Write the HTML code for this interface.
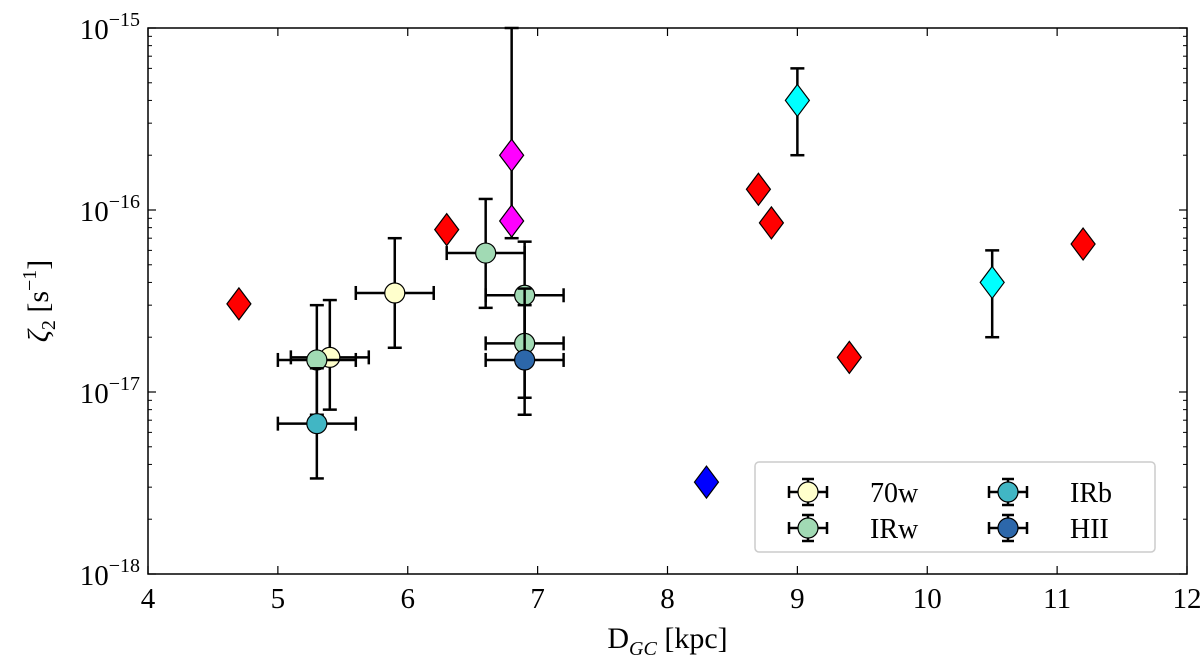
<!DOCTYPE html>
<html><head><meta charset="utf-8"><style>
body{margin:0;background:#fff;}
svg{display:block;font-family:"Liberation Serif",serif;}
</style></head><body>
<svg id="chart" width="1200" height="672"></svg>
<script>
const diamondX=[4.7,6.3,8.7,8.8,9.4,11.2,6.8,6.8,9.0,10.5,8.3];
const diamondY=[3.05e-17,7.8e-17,1.3e-16,8.5e-17,1.55e-17,6.5e-17,2.0e-16,8.7e-17,4.0e-16,4.0e-17,3.2e-18];
const diamondLo=[null,null,null,null,null,null,7e-17,null,2e-16,2e-17,null];
const diamondHi=[null,null,null,null,null,null,1e-15,null,6e-16,6e-17,null];
const diamondColor=["#ff0000","#ff0000","#ff0000","#ff0000","#ff0000","#ff0000","#ff00ff","#ff00ff","#00ffff","#00ffff","#0000ff"];
const circX=[5.4,5.9,5.3,6.6,6.9,6.9,5.3,6.9];
const circY=[1.55e-17,3.5e-17,1.5e-17,5.8e-17,3.4e-17,1.85e-17,6.7e-18,1.5e-17];
const circXerr=[0.3,0.3,0.3,0.3,0.3,0.3,0.3,0.3];
const circYlo=[8e-18,1.75e-17,7.5e-18,2.9e-17,1.7e-17,9.3e-18,3.35e-18,7.5e-18];
const circYhi=[3.2e-17,7e-17,3e-17,1.15e-16,6.7e-17,3.7e-17,1.35e-17,3e-17];
const circClass=["70w","70w","IRw","IRw","IRw","IRw","IRb","HII"];
const classColor={"70w":"#ffffcc","IRw":"#a1dab4","IRb":"#41b6c4","HII":"#2c67aa"};
const xTicks=[4,5,6,7,8,9,10,11,12];
const yDecades=[-18,-17,-16,-15];

const L=148,R=1187,T=28,B=574;
const sx=v=>L+(v-4)/8*(R-L);
const sy=v=>B-(Math.log10(v)+18)/3*(B-T);
const svg=document.getElementById('chart');
const NS='http://www.w3.org/2000/svg';
function mk(tag,attrs,parent){const e=document.createElementNS(NS,tag);for(const k in attrs)e.setAttribute(k,attrs[k]);(parent||svg).appendChild(e);return e;}

const frame=mk('rect',{x:L,y:T,width:R-L,height:B-T,fill:'none',stroke:'#000','stroke-width':1.5});



xTicks.forEach(t=>{
  const x=sx(t);
  mk('line',{x1:x,x2:x,y1:B,y2:B-8,stroke:'#000','stroke-width':1.2});
  mk('line',{x1:x,x2:x,y1:T,y2:T+8,stroke:'#000','stroke-width':1.2});
  const tx=mk('text',{x:x,y:B+34,'text-anchor':'middle','font-size':29});
  tx.textContent=t;
  
  
});
yDecades.forEach(d=>{
  const y=sy(Math.pow(10,d));
  mk('line',{x1:L,x2:L+8,y1:y,y2:y,stroke:'#000','stroke-width':1.2});
  mk('line',{x1:R,x2:R-8,y1:y,y2:y,stroke:'#000','stroke-width':1.2});
  const tx=mk('text',{x:L-8,y:y+11,'text-anchor':'end','font-size':29});
  tx.innerHTML='10<tspan dy="-13" font-size="20">−'+(-d)+'</tspan>';
  
  
  if(d<-15)for(let m=2;m<10;m++){
    const ym=sy(m*Math.pow(10,d));
    mk('line',{x1:L,x2:L+4,y1:ym,y2:ym,stroke:'#000','stroke-width':1});
    mk('line',{x1:R,x2:R-4,y1:ym,y2:ym,stroke:'#000','stroke-width':1});
  }
});
const xl=mk('text',{x:(L+R)/2,y:648,'text-anchor':'middle','font-size':30});
xl.innerHTML='D<tspan dy="7" font-size="20" font-style="italic">GC</tspan><tspan dy="-7"> [kpc]</tspan>';


const yl=mk('text',{transform:'translate(48,'+((T+B)/2)+') rotate(-90)','text-anchor':'middle','font-size':30});
yl.innerHTML='<tspan font-style="italic">ζ</tspan><tspan dy="7" font-size="20">2</tspan><tspan dy="-7"> [s</tspan><tspan dy="-12" font-size="20">−1</tspan><tspan dy="12">]</tspan>';



function vbar(x,lo,hi){const a=sy(lo),b=sy(hi);mk('line',{x1:x,x2:x,y1:a,y2:b,stroke:'#000','stroke-width':2.5});mk('line',{x1:x-7,x2:x+7,y1:a,y2:a,stroke:'#000','stroke-width':2.5});mk('line',{x1:x-7,x2:x+7,y1:b,y2:b,stroke:'#000','stroke-width':2.5});}
circX.forEach((v,i)=>{
  const x=sx(v),y=sy(circY[i]);
  vbar(x,circYlo[i],circYhi[i]);
  const x1=sx(v-circXerr[i]),x2=sx(v+circXerr[i]);
  mk('line',{x1:x1,x2:x2,y1:y,y2:y,stroke:'#000','stroke-width':2.5});
  mk('line',{x1:x1,x2:x1,y1:y-7,y2:y+7,stroke:'#000','stroke-width':2.5});
  mk('line',{x1:x2,x2:x2,y1:y-7,y2:y+7,stroke:'#000','stroke-width':2.5});
  const c=mk('circle',{cx:x,cy:y,r:10,fill:classColor[circClass[i]],stroke:'#000','stroke-width':1.2});
  
  
});
diamondX.forEach((v,i)=>{
  const x=sx(v),y=sy(diamondY[i]);
  if(diamondLo[i])vbar(x,diamondLo[i],diamondHi[i]);
  const p=mk('polygon',{points:`${x},${y-16} ${x+12},${y} ${x},${y+16} ${x-12},${y}`,fill:diamondColor[i],stroke:'#000','stroke-width':1.2});
  
  
});
const lg=mk('g',{});


mk('rect',{x:755,y:462,width:400,height:90,rx:4,fill:'#fff',stroke:'#ccc','stroke-width':1.5},lg);
const legItems=[["70w",808,492],["IRw",808,528],["IRb",1008,492],["HII",1008,528]];
legItems.forEach(([n,x,y])=>{
  const g=mk('g',{},lg);
  
  
  mk('line',{x1:x-19,x2:x+19,y1:y,y2:y,stroke:'#000','stroke-width':2.5},g);
  mk('line',{x1:x,x2:x,y1:y-13,y2:y+13,stroke:'#000','stroke-width':2.5},g);
  [[x-19,x-19,y-6,y+6],[x+19,x+19,y-6,y+6],[x-6,x+6,y-13,y-13],[x-6,x+6,y+13,y+13]].forEach(a=>mk('line',{x1:a[0],x2:a[1],y1:a[2],y2:a[3],stroke:'#000','stroke-width':2.5},g));
  mk('circle',{cx:x,cy:y,r:10,fill:classColor[n],stroke:'#000','stroke-width':1.2},g);
  const t=mk('text',{x:x+62,y:y+10,'font-size':28},g);t.textContent=n;
});
</script>
</body></html>
